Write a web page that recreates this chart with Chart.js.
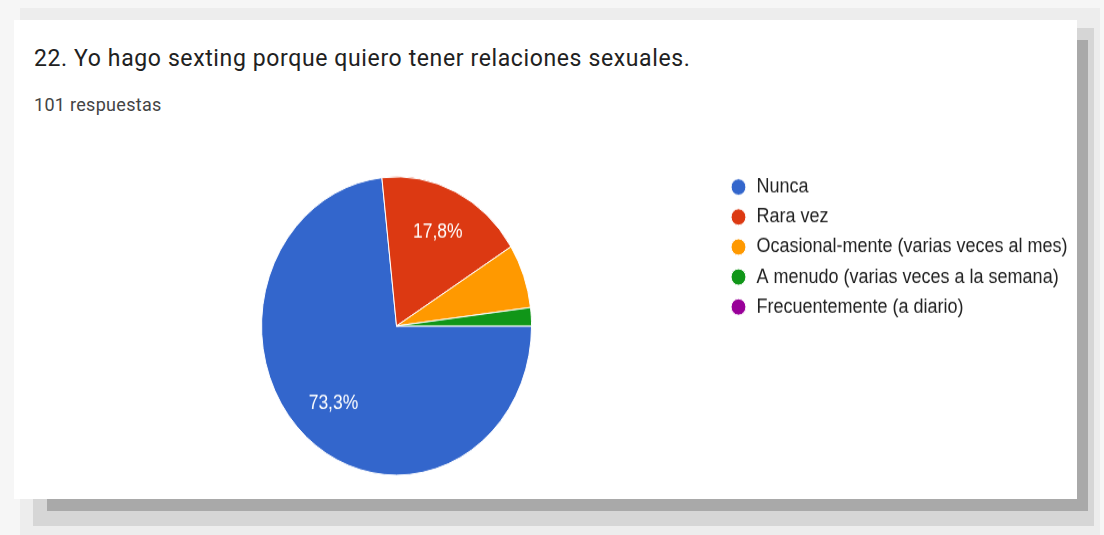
<!DOCTYPE html>
<html>
<head>
<meta charset="utf-8">
<script src="https://cdn.jsdelivr.net/npm/chart.js@4/dist/chart.umd.min.js"></script>
<style>
  html, body { margin: 0; padding: 0; }
  body { width: 1104px; height: 535px; background: #f6f6f6; position: relative; overflow: hidden; }
  .sh { position: absolute; }
  #card { position: absolute; left: 14px; top: 20px; width: 1063px; height: 479px; background: #ffffff; }
  #title { position: absolute; left: 34px; top: 47px; font-family: Roboto, sans-serif; font-size: 23px; line-height: 23px; letter-spacing: 0.62px; color: #212121; white-space: nowrap; }
  #sub { position: absolute; left: 34px; top: 96px; font-family: Roboto, sans-serif; font-size: 18px; line-height: 18px; letter-spacing: 0.3px; color: #444; white-space: nowrap; }
  #wrap { position: absolute; left: 0; top: 20px; width: 1104px; height: 440px; transform: scaleY(1.105); transform-origin: 0 0; }
  #c { position: absolute; left: 0; top: 110px; }
</style>
</head>
<body>
<div class="sh" style="left:20px;top:8px;width:1080px;height:527px;background:#ededed;"></div>
<div class="sh" style="left:33px;top:28px;width:1061px;height:498px;background:#d6d6d6;"></div>
<div class="sh" style="left:47px;top:40px;width:1041px;height:471px;background:#a9a9a9;"></div>
<div id="card"></div>
<div id="title">22. Yo hago sexting porque quiero tener relaciones sexuales.</div>
<div id="sub">101 respuestas</div>
<div id="wrap"><canvas id="c" width="1080" height="320"></canvas></div>
<script>
const categories = [
  'Nunca',
  'Rara vez',
  'Ocasional-mente (varias veces al mes)',
  'A menudo (varias veces a la semana)',
  'Frecuentemente (a diario)'
];
const responses = [74, 18, 7, 2, 0];
const sliceColors = ['#3366cc', '#dc3912', '#ff9900', '#109618', '#990099'];

const sliceLabels = {
  id: 'sliceLabels',
  afterDatasetsDraw(chart) {
    const ctx = chart.ctx;
    const meta = chart.getDatasetMeta(0);
    const data = chart.data.datasets[0].data;
    const total = data.reduce((a, b) => a + b, 0);
    ctx.save();
    ctx.font = '17.5px "Liberation Sans", Arial, sans-serif';
    ctx.fillStyle = '#ffffff';
    ctx.textAlign = 'center';
    ctx.textBaseline = 'middle';
    meta.data.forEach((arc, i) => {
      const pct = data[i] / total * 100;
      if (pct < 10) return;
      const p = arc.getProps(['x', 'y', 'startAngle', 'endAngle', 'outerRadius'], true);
      const mid = (p.startAngle + p.endAngle) / 2;
      const r = p.outerRadius * 0.7;
      ctx.fillText(pct.toFixed(1).replace('.', ',') + '%', p.x + Math.cos(mid) * r, p.y + Math.sin(mid) * r);
    });
    ctx.restore();
  }
};

new Chart(document.getElementById('c'), {
  type: 'pie',
  data: {
    labels: categories,
    datasets: [{
      data: responses,
      backgroundColor: sliceColors,
      borderColor: '#ffffff',
      borderWidth: 1,
      radius: 135
    }]
  },
  options: {
    responsive: false,
    animation: false,
    rotation: 90,
    layout: { padding: { left: 72.75, right: 2.4, top: 22.95, bottom: 9.15 } },
    plugins: {
      tooltip: { enabled: false },
      legend: {
        position: 'right',
        align: 'start',
        labels: {
          usePointStyle: true,
          pointStyle: 'circle',
          boxWidth: 18,
          boxHeight: 10.5,
          padding: 9.15,
          color: '#222222',
          font: { family: '"Liberation Sans", Arial, sans-serif', size: 18 }
        }
      }
    }
  },
  plugins: [sliceLabels]
});
</script>
</body>
</html>
